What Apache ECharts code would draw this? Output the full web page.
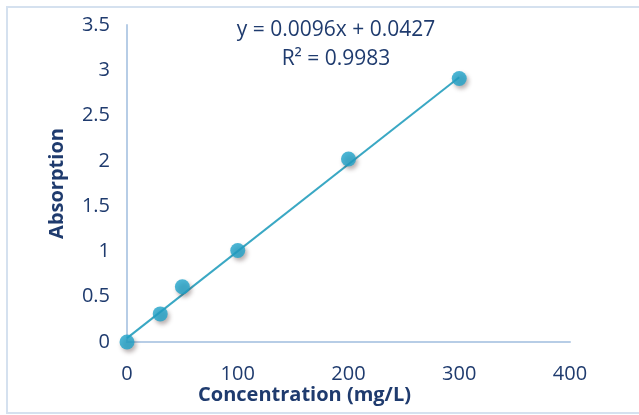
<!DOCTYPE html>
<html>
<head>
<meta charset="utf-8">
<script src="https://cdn.jsdelivr.net/npm/echarts@6/dist/echarts.min.js"></script>
<style>
  html, body { margin: 0; padding: 0; background: #fff; }
  #chart { width: 639px; height: 415px; }
</style>
</head>
<body>
<div id="chart"></div>
<script>
  // calibration points
  const concentration = [0, 30, 50, 100, 200, 300]
  const absorption = [0.0, 0.31, 0.61, 1.01, 2.02, 2.91]
  // trendline reported on the chart
  const slope = 0.0096
  const intercept = 0.0427
  const trendX = [0, 300]
  const equationText = 'y = 0.0096x + 0.0427'
  const r2Text = 'R² = 0.9983'

  const textColor = '#1f3b6e'
  const axisColor = '#b7cde6'
  const pointColor = '#1fa3c9'
  const fontFamily = 'Open Sans, Lato, sans-serif'

  const chart = echarts.init(document.getElementById('chart'))
  chart.setOption({
    backgroundColor: '#fff',
    animation: false,
    grid: { left: 127, right: 69, top: 25, bottom: 73 },
    graphic: [
      {
        type: 'rect',
        shape: { x: 7, y: 7, width: 640, height: 406 },
        style: { fill: 'none', stroke: '#d5e1ef', lineWidth: 2 },
        z: -1
      },
      {
        type: 'text',
        x: 336, y: 30,
        style: {
          text: equationText,
          textAlign: 'center', textVerticalAlign: 'middle',
          fill: textColor,
          font: '21px ' + fontFamily
        }
      },
      {
        type: 'text',
        x: 336, y: 59,
        style: {
          text: r2Text,
          textAlign: 'center', textVerticalAlign: 'middle',
          fill: textColor,
          font: '21px ' + fontFamily
        }
      }
    ],
    xAxis: {
      type: 'value',
      min: 0, max: 400, interval: 100,
      name: 'Concentration (mg/L)',
      nameLocation: 'middle',
      nameGap: 43,
      nameMoveOverlap: false,
      nameTextStyle: { color: textColor, fontSize: 20, fontWeight: 'bold', fontFamily: fontFamily, padding: [0, 88, 0, 0] },
      axisLine: { lineStyle: { color: axisColor, width: 2 } },
      axisTick: { show: false },
      splitLine: { show: false },
      axisLabel: { color: textColor, fontSize: 20, margin: 22, fontFamily: fontFamily }
    },
    yAxis: {
      type: 'value',
      min: 0, max: 3.5, interval: 0.5,
      name: 'Absorption',
      nameLocation: 'middle',
      nameGap: 60,
      nameRotate: 90,
      nameTextStyle: { color: textColor, fontSize: 20, fontWeight: 'bold', fontFamily: fontFamily },
      axisLine: { show: true, lineStyle: { color: axisColor, width: 2 } },
      axisTick: { show: false },
      splitLine: { show: false },
      axisLabel: { color: textColor, fontSize: 20, margin: 17, fontFamily: fontFamily }
    },
    series: [
      {
        type: 'line',
        data: trendX.map(x => [x, slope * x + intercept]),
        symbol: 'none',
        lineStyle: { color: '#3aa8c4', width: 2 },
        z: 2
      },
      {
        type: 'scatter',
        data: concentration.map((x, i) => [x, absorption[i]]),
        symbolSize: 15,
        itemStyle: {
          color: pointColor,
          shadowColor: 'rgba(60,40,40,0.45)',
          shadowBlur: 4,
          shadowOffsetX: 2,
          shadowOffsetY: 3
        },
        z: 3
      }
    ]
  })
</script>
</body>
</html>
